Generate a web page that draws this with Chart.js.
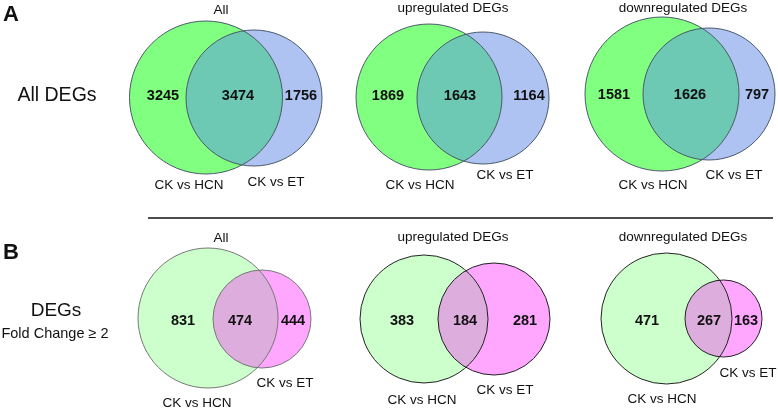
<!DOCTYPE html>
<html>
<head>
<meta charset="utf-8">
<script src="https://cdn.jsdelivr.net/npm/chart.js@4"></script>
<style>
  html,body{margin:0;padding:0;background:#fff;}
  #wrap{width:778px;height:410px;}
</style>
</head>
<body>
<div id="wrap"><canvas id="c" width="778" height="410"></canvas></div>
<script>
// ---------- DATA ----------
const panelTitles = ['All', 'upregulated DEGs', 'downregulated DEGs', 'All', 'upregulated DEGs', 'downregulated DEGs'];
const setNames = ['CK vs HCN', 'CK vs ET'];
const onlyHCN = [3245, 1869, 1581, 831, 383, 471];
const shared  = [3474, 1643, 1626, 474, 184, 267];
const onlyET  = [1756, 1164, 797, 444, 281, 163];
const rowLetters = ['A', 'B'];
const rowTitles = ['All DEGs', 'DEGs'];
const rowSubtitles = ['', 'Fold Change \u2265 2'];

// ---------- LAYOUT (positions in the 778x410 frame) ----------
const hcnCircles = [
  {x: 206, y: 97.5, r: 76.5}, {x: 429, y: 97, r: 73}, {x: 662, y: 94, r: 77},
  {x: 208, y: 318, r: 70}, {x: 424, y: 319, r: 64}, {x: 666.5, y: 318.5, r: 65.5}
];
const etCircles = [
  {x: 254, y: 98, r: 68}, {x: 483, y: 98, r: 66}, {x: 709, y: 94, r: 66},
  {x: 262, y: 319, r: 49}, {x: 494, y: 319, r: 56}, {x: 723.5, y: 318.5, r: 38.5}
];
const titlePos = [[221, 10], [453, 8], [683, 8], [221, 238], [453, 237], [683, 237]];
const countY = [96, 96, 95, 321, 321, 321];
const countX = [[163, 238, 301], [388, 460, 529], [614, 690, 757], [183, 240, 293], [402, 465, 525], [647, 709, 746]];
const hcnLabelPos = [[189, 185], [420, 185], [653, 185], [197, 403], [422, 400], [662, 399]];
const etLabelPos = [[276, 182], [505, 175], [734, 175], [285, 383], [505, 390], [748, 373]];

// ---------- STYLES ----------
const hcnFill = ['#80FF80', '#80FF80', '#80FF80', '#CCFFCC', '#CCFFCC', '#CCFFCC'];
const etFill = ['#AEC3F2', '#AEC3F2', '#AEC3F2', '#FFA6FF', '#FFA6FF', '#FFA6FF'];
const overlapFill = ['#6DC8B4', '#6DC8B4', '#6DC8B4', '#DDAEDD', '#DDAEDD', '#DDAEDD'];
const strokeCol = ['#4a5a6a', '#4a5a6a', '#4a5a6a', '#777777', '#222222', '#222222'];
const FONT = '"Liberation Sans", Arial, Helvetica, sans-serif';

const vennPlugin = {
  id: 'venn',
  afterDatasetsDraw(chart) {
    const ctx = chart.ctx;
    const m0 = chart.getDatasetMeta(0).data;
    const m1 = chart.getDatasetMeta(1).data;
    for (let i = 0; i < m0.length; i++) {
      const a = m0[i], b = m1[i];
      const ra = a.options.radius, rb = b.options.radius;
      ctx.save();
      ctx.beginPath();
      ctx.arc(a.x, a.y, ra, 0, Math.PI * 2);
      ctx.clip();
      ctx.beginPath();
      ctx.arc(b.x, b.y, rb, 0, Math.PI * 2);
      ctx.fillStyle = overlapFill[i];
      ctx.fill();
      ctx.restore();
      ctx.save();
      ctx.lineWidth = 1;
      ctx.strokeStyle = strokeCol[i];
      ctx.beginPath();
      ctx.arc(a.x, a.y, ra, 0, Math.PI * 2);
      ctx.stroke();
      ctx.beginPath();
      ctx.arc(b.x, b.y, rb, 0, Math.PI * 2);
      ctx.stroke();
      ctx.restore();
    }
  },
  afterDraw(chart) {
    const ctx = chart.ctx;
    const xs = chart.scales.x, ys = chart.scales.y;
    const px = v => xs.getPixelForValue(v), py = v => ys.getPixelForValue(v);
    ctx.save();
    ctx.textAlign = 'center';
    ctx.textBaseline = 'middle';
    ctx.fillStyle = '#111';
    for (let i = 0; i < panelTitles.length; i++) {
      ctx.font = '13.5px ' + FONT;
      ctx.fillText(panelTitles[i], px(titlePos[i][0]), py(titlePos[i][1]));
      ctx.fillText(setNames[0], px(hcnLabelPos[i][0]), py(hcnLabelPos[i][1]));
      ctx.fillText(setNames[1], px(etLabelPos[i][0]), py(etLabelPos[i][1]));
      ctx.font = 'bold 14.5px ' + FONT;
      const vals = [onlyHCN[i], shared[i], onlyET[i]];
      for (let k = 0; k < 3; k++) {
        ctx.fillText(String(vals[k]), px(countX[i][k]), py(countY[i]));
      }
    }
    // row letters and titles
    ctx.font = 'bold 22px ' + FONT;
    ctx.fillText(rowLetters[0], px(11), py(15));
    ctx.fillText(rowLetters[1], px(11), py(253));
    ctx.font = '19.5px ' + FONT;
    ctx.fillText(rowTitles[0], px(57), py(96));
    ctx.font = '19px ' + FONT;
    ctx.fillText(rowTitles[1], px(56), py(311));
    ctx.font = '14.5px ' + FONT;
    ctx.fillText(rowSubtitles[1], px(55), py(334));
    // divider
    ctx.strokeStyle = '#111';
    ctx.lineWidth = 1.6;
    ctx.beginPath();
    ctx.moveTo(px(148), py(218));
    ctx.lineTo(px(773), py(218));
    ctx.stroke();
    ctx.restore();
  }
};

new Chart(document.getElementById('c'), {
  type: 'bubble',
  data: {
    datasets: [
      {
        label: setNames[0],
        data: hcnCircles.map(c => ({x: c.x, y: c.y, r: c.r})),
        backgroundColor: hcnFill,
        borderWidth: 0,
        hoverRadius: 0,
        clip: false
      },
      {
        label: setNames[1],
        data: etCircles.map(c => ({x: c.x, y: c.y, r: c.r})),
        backgroundColor: etFill,
        borderWidth: 0,
        hoverRadius: 0,
        clip: false
      }
    ]
  },
  options: {
    responsive: false,
    animation: false,
    events: [],
    layout: {padding: 0, autoPadding: false},
    plugins: {legend: {display: false}, tooltip: {enabled: false}},
    scales: {
      x: {type: 'linear', min: 0, max: 778, display: false},
      y: {type: 'linear', min: 0, max: 410, reverse: true, display: false}
    }
  },
  plugins: [vennPlugin]
});
</script>
</body>
</html>
